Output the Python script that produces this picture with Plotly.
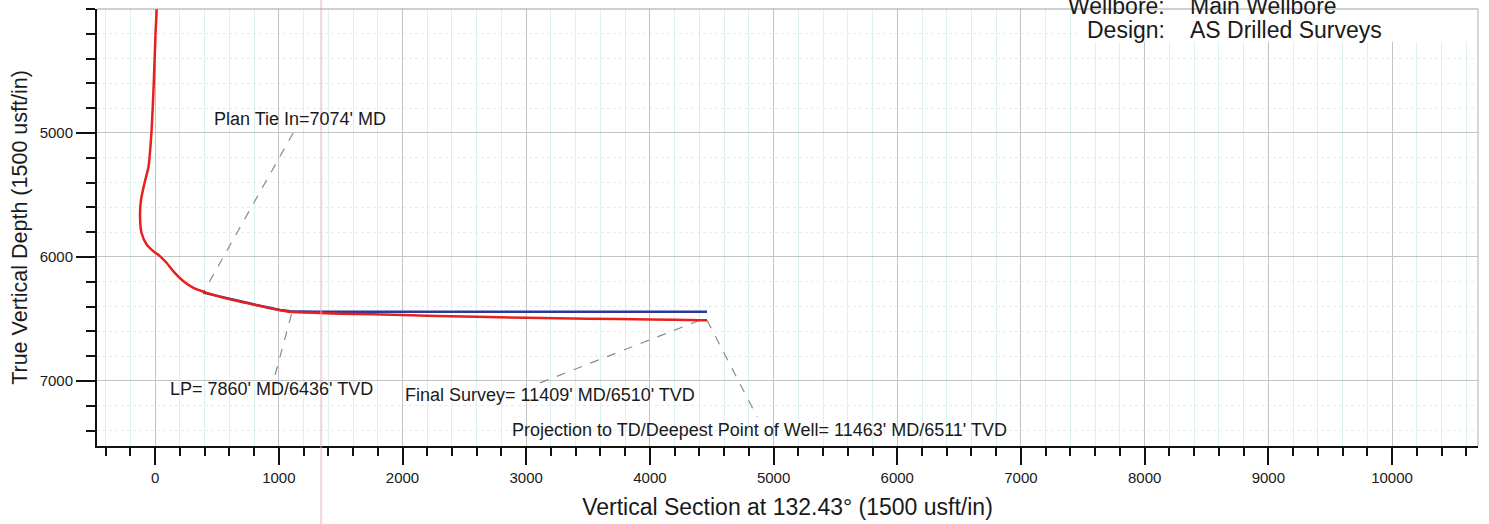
import plotly.graph_objects as go

# ---- data ----
actual_vs = [13, 3, -11, -30, -54, -85, -115, -122, -110, -67, -13, 40, 94, 148, 229, 310, 418, 580, 795, 1011, 1091, 1334, 1500, 2000, 2385, 3000, 3500, 4000, 4410, 4462]
actual_tvd = [4000, 4200, 4600, 5000, 5274, 5400, 5545, 5680, 5807, 5901, 5955, 5995, 6049, 6116, 6196, 6250, 6290, 6336, 6384, 6430, 6443, 6452, 6458, 6468, 6479, 6490, 6498, 6505, 6510, 6511]

plan_vs = [388, 580, 795, 1011, 1091, 1300, 4462]
plan_tvd = [6288, 6334, 6382, 6428, 6438, 6442, 6442]

# annotation labels: text, text position (vs, tvd), leader from (vs, tvd) to (vs, tvd)
labels = ["Plan Tie In=7074' MD",
          "LP= 7860' MD/6436' TVD",
          "Final Survey= 11409' MD/6510' TVD",
          "Projection to TD/Deepest Point of Well= 11463' MD/6511' TVD"]
label_vs = [1172, 938, 3193, 4883]
label_tvd = [4887, 7065, 7113, 7395]
leader_from_vs = [1116, 970, 3112, 4462]
leader_from_tvd = [5000, 6952, 7016, 6511]
leader_to_vs = [388, 1107, 4405, 4867]
leader_to_tvd = [6290, 6444, 6510, 7290]

x_ticks = [0, 1000, 2000, 3000, 4000, 5000, 6000, 7000, 8000, 9000, 10000]
x_tick_text = ["0", "1000", "2000", "3000", "4000", "5000", "6000", "7000", "8000", "9000", "10000"]
y_ticks = [5000, 6000, 7000]

FONT = "Liberation Sans, Arial, sans-serif"

fig = go.Figure()

# leader lines
for i in range(len(labels)):
    fig.add_trace(go.Scatter(
        x=[leader_from_vs[i], leader_to_vs[i]],
        y=[leader_from_tvd[i], leader_to_tvd[i]],
        mode="lines", line=dict(color="#8a8a8a", width=1.2, dash="dash"),
        hoverinfo="skip", showlegend=False))

fig.add_trace(go.Scatter(x=plan_vs, y=plan_tvd, mode="lines",
                         line=dict(color="#2a3a9a", width=2.5), showlegend=False))
fig.add_trace(go.Scatter(x=actual_vs, y=actual_tvd, mode="lines",
                         line=dict(color="#e8201c", width=2.5, shape="spline", smoothing=0.6),
                         showlegend=False))

for i in range(len(labels)):
    fig.add_annotation(x=label_vs[i], y=label_tvd[i], text=labels[i], showarrow=False,
                       xref="x", yref="y", font=dict(family=FONT, size=18, color="#1a1a1a"))

# white box behind header text
fig.add_shape(type="rect", xref="paper", yref="paper", x0=0.712, x1=0.998, y0=0.925, y1=1.05,
              fillcolor="white", line=dict(width=0), layer="above")
# scanner artifact: faint pink vertical line
fig.add_shape(type="line", xref="x", yref="paper", x0=1342, x1=1342, y0=-0.2, y1=1.05,
              line=dict(color="rgba(235,170,185,0.5)", width=2), layer="above")
# thin gray top / right borders
fig.add_shape(type="line", xref="paper", yref="paper", x0=0, x1=1, y0=1, y1=1,
              line=dict(color="#a0a0a0", width=1))
fig.add_shape(type="line", xref="paper", yref="paper", x0=1, x1=1, y0=0, y1=1,
              line=dict(color="#b0b0b0", width=1))

hdr = dict(family=FONT, size=23, color="#1a1a1a")
fig.add_annotation(xref="paper", yref="paper", x=0.7748, y=1.008, xanchor="right", yanchor="middle",
                   text="Wellbore:", showarrow=False, font=hdr)
fig.add_annotation(xref="paper", yref="paper", x=0.7900, y=1.008, xanchor="left", yanchor="middle",
                   text="Main Wellbore", showarrow=False, font=hdr)
fig.add_annotation(xref="paper", yref="paper", x=0.7748, y=0.951, xanchor="right", yanchor="middle",
                   text="Design:", showarrow=False, font=hdr)
fig.add_annotation(xref="paper", yref="paper", x=0.7900, y=0.951, xanchor="left", yanchor="middle",
                   text="AS Drilled Surveys", showarrow=False, font=hdr)

fig.update_layout(
    width=1489, height=524,
    margin=dict(l=97, r=11, t=9, b=78),
    paper_bgcolor="white", plot_bgcolor="white",
    font=dict(family=FONT, color="#1a1a1a"),
    xaxis=dict(
        range=[-470, 10695], tickmode="array", tickvals=x_ticks, ticktext=x_tick_text,
        ticks="outside", ticklen=17, tickwidth=2, tickcolor="#111",
        showline=True, linecolor="#111", linewidth=2,
        showgrid=True, gridcolor="#c4c4c4", gridwidth=1,
        zeroline=False,
        tickfont=dict(size=15, family=FONT),
        title=dict(text="Vertical Section at 132.43° (1500 usft/in)", font=dict(size=23, family=FONT), standoff=14),
        minor=dict(tickmode="linear", tick0=0, dtick=200, ticks="outside", ticklen=8, tickwidth=1.5,
                   tickcolor="#111", showgrid=True, gridcolor="#dcf0f0", gridwidth=1),
    ),
    yaxis=dict(
        range=[7525, 4000], tickmode="array", tickvals=y_ticks,
        ticks="outside", ticklen=19, tickwidth=2, tickcolor="#111",
        showline=True, linecolor="#111", linewidth=2,
        showgrid=True, gridcolor="#c4c4c4", gridwidth=1,
        zeroline=False,
        tickfont=dict(size=15, family=FONT),
        title=dict(text="True Vertical Depth (1500 usft/in)", font=dict(size=21.5, family=FONT), standoff=6),
        minor=dict(tickmode="linear", tick0=0, dtick=200, ticks="outside", ticklen=9, tickwidth=1.5,
                   tickcolor="#111", showgrid=True, gridcolor="#e3ecee", gridwidth=1, griddash="dot"),
    ),
)

fig.write_html("out.html", config={"displayModeBar": False},
               post_script="document.body.style.margin='0px';")
